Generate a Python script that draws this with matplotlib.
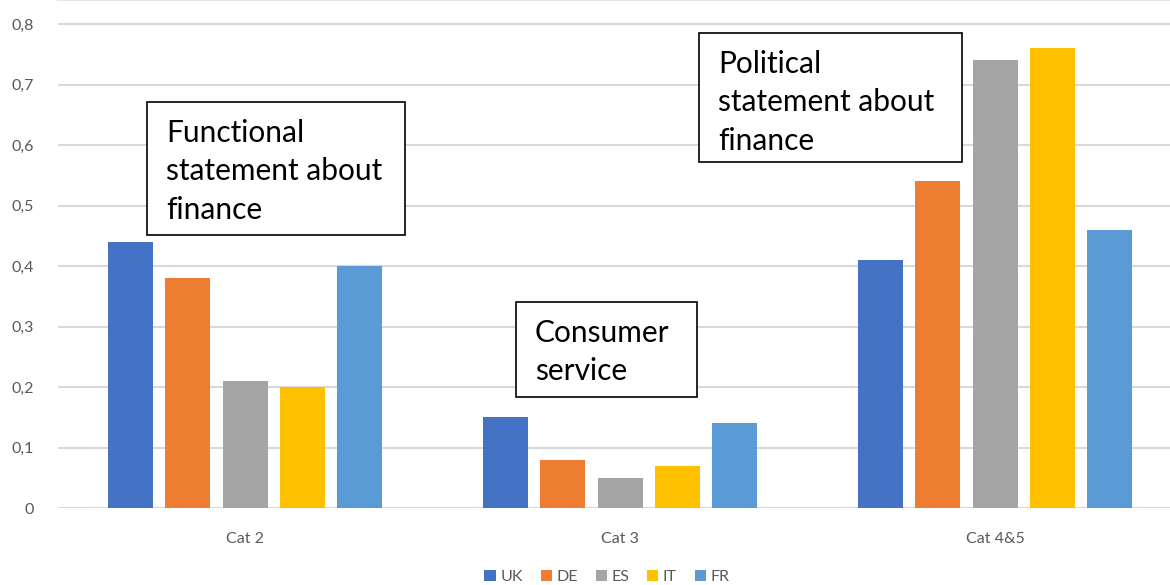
import numpy as np
import matplotlib.pyplot as plt
from matplotlib.patches import Rectangle

categories = ['Cat 2', 'Cat 3', 'Cat 4&5']
countries = ['UK', 'DE', 'ES', 'IT', 'FR']
values = {
    'UK': [0.44, 0.15, 0.41],
    'DE': [0.38, 0.08, 0.54],
    'ES': [0.21, 0.05, 0.74],
    'IT': [0.20, 0.07, 0.76],
    'FR': [0.40, 0.14, 0.46],
}
colours = ['#4472C4', '#ED7D31', '#A5A5A5', '#FFC000', '#5B9BD5']
yticks = [0, 0.1, 0.2, 0.3, 0.4, 0.5, 0.6, 0.7, 0.8]

plt.rcParams['font.family'] = ['Lato', 'DejaVu Sans']

W, H = 1170, 585
fig = plt.figure(figsize=(W / 100, H / 100), dpi=100)
ax = fig.add_axes([57.5 / W, 1 - 508 / H, 1125 / W, 508 / H])

x = np.arange(len(categories))
pitch = 0.153
width = 0.12
for i, (c, col) in enumerate(zip(countries, colours)):
    ax.bar(x + (i - 2) * pitch, values[c], width, color=col, label=c, zorder=3)

ax.set_xlim(-0.5, 2.5)
ax.set_ylim(0, 0.84)
ax.set_yticks(yticks)
ax.set_yticklabels([('%.1f' % t).replace('.', ',') if t else '0' for t in yticks])
ax.set_xticks(x)
ax.set_xticklabels(categories)
ax.tick_params(length=0, colors='#595959', labelsize=11.5)
ax.tick_params(axis='x', pad=17)
ax.tick_params(axis='y', pad=17)
ax.yaxis.grid(True, color='#D9D9D9', linewidth=1.5, zorder=0)
ax.set_axisbelow(True)
for s in ['left', 'right', 'bottom']:
    ax.spines[s].set_visible(False)
ax.spines['top'].set_color('#E6E6E6')
ax.spines['top'].set_linewidth(1.5)

leg = fig.legend(loc='center', bbox_to_anchor=(607 / W, 1 - 577 / H), ncol=5,
                 frameon=False, fontsize=11.5, handlelength=0.7, handleheight=0.7,
                 handletextpad=0.3, columnspacing=1.1, labelcolor='#595959')

# annotation boxes, given in figure pixels (left, top, right, bottom)
boxes = [
    ((147, 102, 405, 235), 'Functional\nstatement about\nfinance'),
    ((516, 302, 697, 397), 'Consumer\nservice'),
    ((699, 33, 962, 162), 'Political\nstatement about\nfinance'),
]
for (l, t, r, b), txt in boxes:
    fig.patches.append(Rectangle((l / W, 1 - b / H), (r - l) / W, (b - t) / H,
                                 transform=fig.transFigure, facecolor='white',
                                 edgecolor='black', linewidth=1.2, zorder=5))
    fig.text((l + 19) / W, 1 - (t + 17) / H, txt, ha='left', va='top',
             fontsize=21.5, linespacing=1.45, color='black', zorder=6)

fig.savefig('out.png', dpi=100)
